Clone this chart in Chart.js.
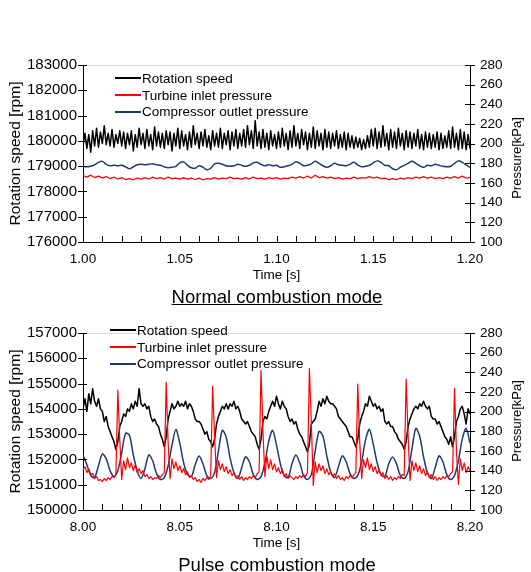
<!DOCTYPE html>
<html>
<head>
<meta charset="utf-8">
<script src="https://cdn.jsdelivr.net/npm/chart.js@4.4.0/dist/chart.umd.min.js"></script>
<style>
    body { margin: 0; background: #fff; font-family: "Liberation Sans", Arial, sans-serif; color: #000; }
    #page { position: relative; width: 531px; height: 572px; overflow: hidden; }
    canvas { position: absolute; left: 0; }
    .legend { position: absolute; font-size: 13.5px; }
    .legend div { display: flex; align-items: center; height: 16.7px; white-space: nowrap; }
    .legend span { display: inline-block; width: 26px; border-top: 2px solid; margin-right: 1px; }
    .vtitle { position: absolute; transform: translate(-50%, -50%) rotate(-90deg); font-size: 13px; white-space: nowrap; }
    .caption { position: absolute; transform: translate(-50%, -50%); font-size: 18.5px; white-space: nowrap; }
</style>
</head>
<body>
<div id="page">
    <canvas id="normalChart" width="531" height="286" style="top:0"></canvas>
    <canvas id="pulseChart" width="531" height="286" style="top:268px"></canvas>

    <div class="legend" style="left:115px; top:70px">
        <div><span style="border-color:#000"></span>Rotation speed</div>
        <div><span style="border-color:#ff0000"></span>Turbine inlet pressure</div>
        <div><span style="border-color:#1f3878"></span>Compressor outlet pressure</div>
    </div>
    <div class="legend" style="left:110px; top:322px">
        <div><span style="border-color:#000"></span>Rotation speed</div>
        <div><span style="border-color:#ff0000"></span>Turbine inlet pressure</div>
        <div><span style="border-color:#1f3878"></span>Compressor outlet pressure</div>
    </div>

    <div class="vtitle" style="left:516px; top:158px">Pressure[kPa]</div>
    <div class="vtitle" style="left:516px; top:421px">Pressure[kPa]</div>

    <div class="caption" style="left:277px; top:297px; text-decoration: underline;">Normal combustion mode</div>
    <div class="caption" style="left:277px; top:565px">Pulse combustion mode</div>
</div>

<script>
// time grids
const normalStart = 1.0;
const pulseStart = 8.0;
const fineStep = 0.001;
const coarseStep = 0.002;
const normalTimeLabels = [1.00, 1.05, 1.10, 1.15, 1.20];
const pulseTimeLabels = [8.00, 8.05, 8.10, 8.15, 8.20];

const seriesNames = ['Rotation speed', 'Turbine inlet pressure', 'Compressor outlet pressure'];
const seriesColors = ['#000000', '#ff0000', '#1f3878'];

// Normal combustion mode, rotation speed [rpm], every 1 ms
const normalSpeed = [
    179800, 180300, 179700, 180250, 179550, 180400, 179800, 180500, 179750, 180350,
    179900, 180600, 179850, 180300, 179800, 180450, 179750, 180250, 179900, 180400,
    179800, 180350, 179700, 180300, 179850, 180400, 179600, 180250, 179750, 180500,
    179850, 180300, 179700, 180450, 179800, 180250, 179650, 180550, 179800, 180350,
    179750, 180300, 179700, 180400, 179850, 180350, 179600, 180300, 179800, 180500,
    179700, 180400, 179800, 180250, 179650, 180350, 179750, 180600, 179850, 180300,
    179700, 180350, 179800, 180450, 179750, 180200, 179650, 180400, 179800, 180300,
    179750, 180500, 179700, 180300, 179850, 180400, 179650, 180350, 179800, 180450,
    179700, 180300, 179800, 180450, 179750, 180600, 179850, 180400, 179700, 180800,
    179800, 180350, 179700, 180450, 179750, 180300, 179650, 180400, 179800, 180250,
    179700, 180350, 179750, 180500, 179800, 180300, 179650, 180400, 179750, 180600,
    179800, 180300, 179700, 180450, 179850, 180350, 179650, 180300, 179750, 180550,
    179700, 180400, 179800, 180300, 179650, 180450, 179750, 180350, 179700, 180300,
    179800, 180400, 179700, 180250, 179750, 180350, 179650, 180300, 179750, 180200,
    179700, 180150, 179750, 180100, 179650, 180050, 179700, 180200, 179750, 180450,
    179800, 180500, 179700, 180350, 179750, 180600, 179800, 180300, 179650, 180450,
    179750, 180350, 179700, 180500, 179800, 180300, 179650, 180400, 179750, 180350,
    179700, 180300, 179800, 180450, 179700, 180250, 179650, 180350, 179750, 180300,
    179700, 180250, 179750, 180350, 179650, 180300, 179700, 180200, 179750, 180400,
    179700, 180550, 179750, 180300, 179650, 180450, 179700, 180350, 179650, 180250,
    179700
];

// Normal combustion mode, turbine inlet pressure [kPa], every 2 ms
const normalTurbine = [
    167.5, 166, 168, 165.5, 167, 165, 166.5, 164.5, 166, 164,
    165.5, 163.5, 164.5, 163, 165, 164, 165.5, 164, 166, 164.5,
    165.5, 164, 166, 164.5, 165, 164, 165.5, 164, 165, 163.5,
    165, 163, 164.5, 164, 165.5, 164, 165, 164.5, 166, 164.5,
    165, 164, 165.5, 164, 166, 164.5, 165, 164, 165.5, 164.5,
    165.5, 164, 165, 164.5, 166, 165, 166.5, 165, 167, 165,
    168, 165.5, 166.5, 165, 166, 164.5, 165.5, 164, 165, 164.5,
    166, 164.5, 165.5, 165, 166.5, 165, 166, 164.5, 165, 163.5,
    164.5, 163.5, 165, 164, 165.5, 164.5, 166, 165, 166.5, 165,
    166, 164.5, 165.5, 164.5, 166, 165, 166.5, 165, 167, 165,
    165.5
];

// Normal combustion mode, compressor outlet pressure [kPa], every 2 ms
const normalCompressor = [
    177, 176.5, 177, 178.5, 181, 182, 179, 177.5, 178, 177.5,
    178, 176.5, 174.5, 176.5, 178.5, 179, 178.5, 179, 179.5, 178.5,
    178, 176.5, 175.5, 176, 177, 180.5, 181.5, 178, 175.5, 175,
    177.5, 176, 173.5, 175, 179.5, 180, 179, 177.5, 177, 177.5,
    179, 178, 177, 178, 180.5, 181, 179, 177.5, 178.5, 177.5,
    178, 176, 176.5, 177.5, 179, 181.5, 180, 177.5, 178, 179.5,
    182, 180, 177.5, 176, 177.5, 180, 178.5, 178, 177.5, 179,
    181, 178.5, 176.5, 177, 178, 180.5, 182.5, 181, 178, 177.5,
    174.5, 173.5, 176, 178, 180, 182, 180, 177.5, 176, 178,
    177.5, 179, 178, 177, 176.5, 177, 180, 182.5, 181, 178.5,
    176
];

// Pulse combustion mode, rotation speed [rpm], every 1 ms
const pulseSpeed = [
    154000, 154400, 153900, 154600, 154200, 154800, 154300, 154100, 154400, 154000,
    153900, 153500, 153700, 153300, 153100, 152900, 152700, 152400, 152700, 153300,
    153500, 153800, 153700, 154000, 153900, 154200, 154000, 154300, 154100, 154800,
    154200, 154100, 154200, 154000, 154100, 153700, 153500, 153600, 153400, 153300,
    153000, 152800, 152500, 152900, 153600, 153900, 154200, 154000, 154100, 154300,
    154100, 154200, 154100, 154300, 154000, 154200, 154100, 153900, 153600, 153500,
    153500, 153400, 153200, 153000, 153100, 152800, 152700, 152500, 152800, 153400,
    153700, 153900, 154100, 154000, 154200, 154000, 154200, 154100, 154300, 154000,
    154100, 153900, 153600, 153500, 153400, 153500, 153300, 153100, 153000, 152900,
    152600, 152400, 152800, 153500, 153700, 153600, 153900, 154100, 154300, 154100,
    154500, 154200, 154000, 154300, 154100, 154000, 153700, 153500, 153600, 153400,
    153500, 153200, 153000, 152900, 152700, 152500, 152300, 152600, 153400, 153500,
    153600, 153900, 154300, 154100, 154400, 154200, 154500, 154300, 154200, 154200,
    154100, 154000, 153700, 153600, 153500, 153400, 153300, 153100, 152900, 152900,
    152700, 152500, 152800, 153400, 153700, 153900, 154200, 154100, 154500, 154300,
    154100, 154200, 154000, 154100, 153900, 154000, 153500, 153400, 153500, 153300,
    153300, 153100, 153000, 152800, 152700, 152600, 152400, 152700, 153300, 153600,
    153800, 154000, 154100, 154000, 154200, 154100, 154300, 154100, 154000, 154100,
    153700, 153600, 153600, 153400, 153500, 153300, 153100, 152900, 152800, 152600,
    152900, 152500, 152900, 153500, 153700, 154000, 154100, 153800, 153400, 154000,
    153800
];

// Pulse combustion mode, turbine inlet pressure [kPa], every 1 ms
const pulseTurbine = [
    141, 144, 138, 142, 136, 137, 132, 134, 130, 131,
    129, 132, 130, 133, 131, 134, 133, 136, 222, 172,
    131, 150, 141, 153, 143, 148, 140, 146, 138, 142,
    137, 140, 134, 136, 132, 134, 131, 133, 132, 135,
    133, 136, 138, 230, 168, 132, 152, 142, 149, 140,
    145, 138, 142, 136, 139, 133, 135, 131, 133, 129,
    131, 128, 132, 130, 133, 131, 135, 226, 175, 133,
    150, 141, 147, 139, 144, 137, 141, 135, 138, 133,
    135, 131, 134, 130, 133, 131, 134, 132, 135, 133,
    137, 139, 242, 180, 134, 155, 142, 151, 141, 147,
    139, 143, 137, 141, 134, 137, 132, 135, 133, 131,
    134, 132, 135, 133, 136, 134, 138, 244, 190, 125,
    149, 138, 147, 140, 145, 137, 142, 136, 139, 134,
    137, 132, 135, 131, 133, 130, 134, 132, 135, 133,
    136, 138, 228, 170, 132, 151, 143, 153, 141, 147,
    139, 144, 137, 141, 135, 138, 132, 135, 131, 134,
    130, 133, 131, 134, 132, 136, 135, 233, 176, 130,
    150, 140, 148, 139, 145, 137, 142, 135, 139, 133,
    136, 131, 134, 130, 133, 131, 134, 132, 135, 134,
    137, 139, 224, 160, 126, 152, 140, 148, 138, 144,
    140
];

// Pulse combustion mode, compressor outlet pressure [kPa], every 2 ms
const pulseCompressor = [
    156, 146, 135, 133, 145, 157, 152, 140, 134, 140,
    158, 178, 176, 156, 140, 132, 142, 156, 150, 137,
    131, 133, 145, 166, 182, 168, 148, 136, 134, 146,
    155, 147, 135, 132, 138, 160, 181, 174, 153, 138,
    132, 143, 154, 149, 136, 131, 134, 148, 170, 181,
    166, 147, 135, 133, 147, 156, 148, 135, 131, 136,
    160, 180, 175, 155, 139, 133, 144, 155, 149, 137,
    132, 135, 149, 171, 182, 167, 148, 136, 134, 147,
    154, 147, 135, 132, 139, 162, 183, 175, 154, 138,
    132, 143, 155, 149, 136, 131, 135, 150, 172, 183,
    168
];

function toPoints(values, start, step) {
    return values.map((v, i) => ({ x: +(start + i * step).toFixed(4), y: v }));
}

const fontFamily = '"Liberation Sans", Arial, sans-serif';

// crossing tick marks on the y axes, inward ticks on time axis, faint top line
const axisMarks = {
    id: 'axisMarks',
    afterDraw(chart) {
        const { ctx, chartArea: a, scales } = chart;
        ctx.save();
        ctx.lineWidth = 1;
        ctx.strokeStyle = '#d9d9d9';
        ctx.beginPath();
        ctx.moveTo(a.left, a.top + 0.5);
        ctx.lineTo(a.right, a.top + 0.5);
        ctx.stroke();

        ctx.strokeStyle = '#000';
        ctx.beginPath();
        scales.y.ticks.forEach(t => {
            const p = Math.round(scales.y.getPixelForValue(t.value)) + 0.5;
            ctx.moveTo(a.left - 5, p);
            ctx.lineTo(a.left + 4, p);
        });
        scales.y2.ticks.forEach(t => {
            const p = Math.round(scales.y2.getPixelForValue(t.value)) + 0.5;
            ctx.moveTo(a.right - 5, p);
            ctx.lineTo(a.right + 5, p);
        });
        scales.x.ticks.forEach(t => {
            const p = Math.round(scales.x.getPixelForValue(t.value)) + 0.5;
            ctx.moveTo(p, a.bottom);
            ctx.lineTo(p, a.bottom - 6);
        });
        ctx.stroke();
        ctx.restore();
    }
};

function buildChart(canvasId, speedPts, turbinePts, compressorPts, start, speedMin, timeLabels) {
    const ctx = document.getElementById(canvasId);
    if (!ctx) return;
    new Chart(ctx, {
        type: 'line',
        data: {
            datasets: [
                { label: seriesNames[0], data: speedPts, borderColor: seriesColors[0], borderWidth: 1.5, yAxisID: 'y', order: 2 },
                { label: seriesNames[1], data: turbinePts, borderColor: seriesColors[1], borderWidth: 1.2, yAxisID: 'y2', order: 0 },
                { label: seriesNames[2], data: compressorPts, borderColor: seriesColors[2], borderWidth: 1.5, yAxisID: 'y2', order: 1, tension: 0.3 }
            ]
        },
        options: {
            responsive: false,
            animation: false,
            devicePixelRatio: 1,
            events: [],
            layout: { padding: { top: 65, left: 0, right: 0, bottom: 0 } },
            elements: {
                point: { radius: 0 },
                line: { tension: 0, borderJoinStyle: 'round', fill: false }
            },
            plugins: {
                legend: { display: false },
                tooltip: { enabled: false }
            },
            scales: {
                x: {
                    type: 'linear',
                    min: start,
                    max: start + 0.2,
                    grid: { display: false, drawTicks: false },
                    border: { display: true, color: '#000', width: 1 },
                    ticks: {
                        stepSize: 0.01,
                        autoSkip: false,
                        maxRotation: 0,
                        padding: 9,
                        color: '#000',
                        font: { size: 13.5, family: fontFamily },
                        callback: v => {
                            const hit = timeLabels.find(l => Math.abs(l - v) < 1e-6);
                            return hit === undefined ? '' : hit.toFixed(2);
                        }
                    },
                    title: {
                        display: true,
                        text: 'Time [s]',
                        color: '#000',
                        font: { size: 13.5, family: fontFamily },
                        padding: { top: 0, bottom: 3 }
                    },
                    afterFit: s => { s.height = 44; }
                },
                y: {
                    position: 'left',
                    min: speedMin,
                    max: speedMin + 7000,
                    grid: { display: false, drawTicks: false },
                    border: { display: true, color: '#000', width: 1 },
                    ticks: {
                        stepSize: 1000,
                        padding: 6,
                        color: '#000',
                        font: { size: 15, family: fontFamily },
                        callback: v => String(v)
                    },
                    title: {
                        display: true,
                        text: 'Rotation speed [rpm]',
                        color: '#000',
                        font: { size: 15.5, family: fontFamily },
                        padding: { top: 6, bottom: 0 }
                    },
                    afterFit: s => { s.width = 83; }
                },
                y2: {
                    position: 'right',
                    min: 100,
                    max: 280,
                    grid: { display: false, drawTicks: false },
                    border: { display: true, color: '#000', width: 1 },
                    ticks: {
                        stepSize: 20,
                        padding: 10,
                        color: '#000',
                        font: { size: 13.5, family: fontFamily }
                    },
                    afterFit: s => { s.width = 61; }
                }
            }
        },
        plugins: [axisMarks]
    });
}

window.addEventListener('load', () => {
    buildChart('normalChart',
        toPoints(normalSpeed, normalStart, fineStep),
        toPoints(normalTurbine, normalStart, coarseStep),
        toPoints(normalCompressor, normalStart, coarseStep),
        normalStart, 176000, normalTimeLabels);

    buildChart('pulseChart',
        toPoints(pulseSpeed, pulseStart, fineStep),
        toPoints(pulseTurbine, pulseStart, fineStep),
        toPoints(pulseCompressor, pulseStart, coarseStep),
        pulseStart, 150000, pulseTimeLabels);
});
</script>
</body>
</html>
